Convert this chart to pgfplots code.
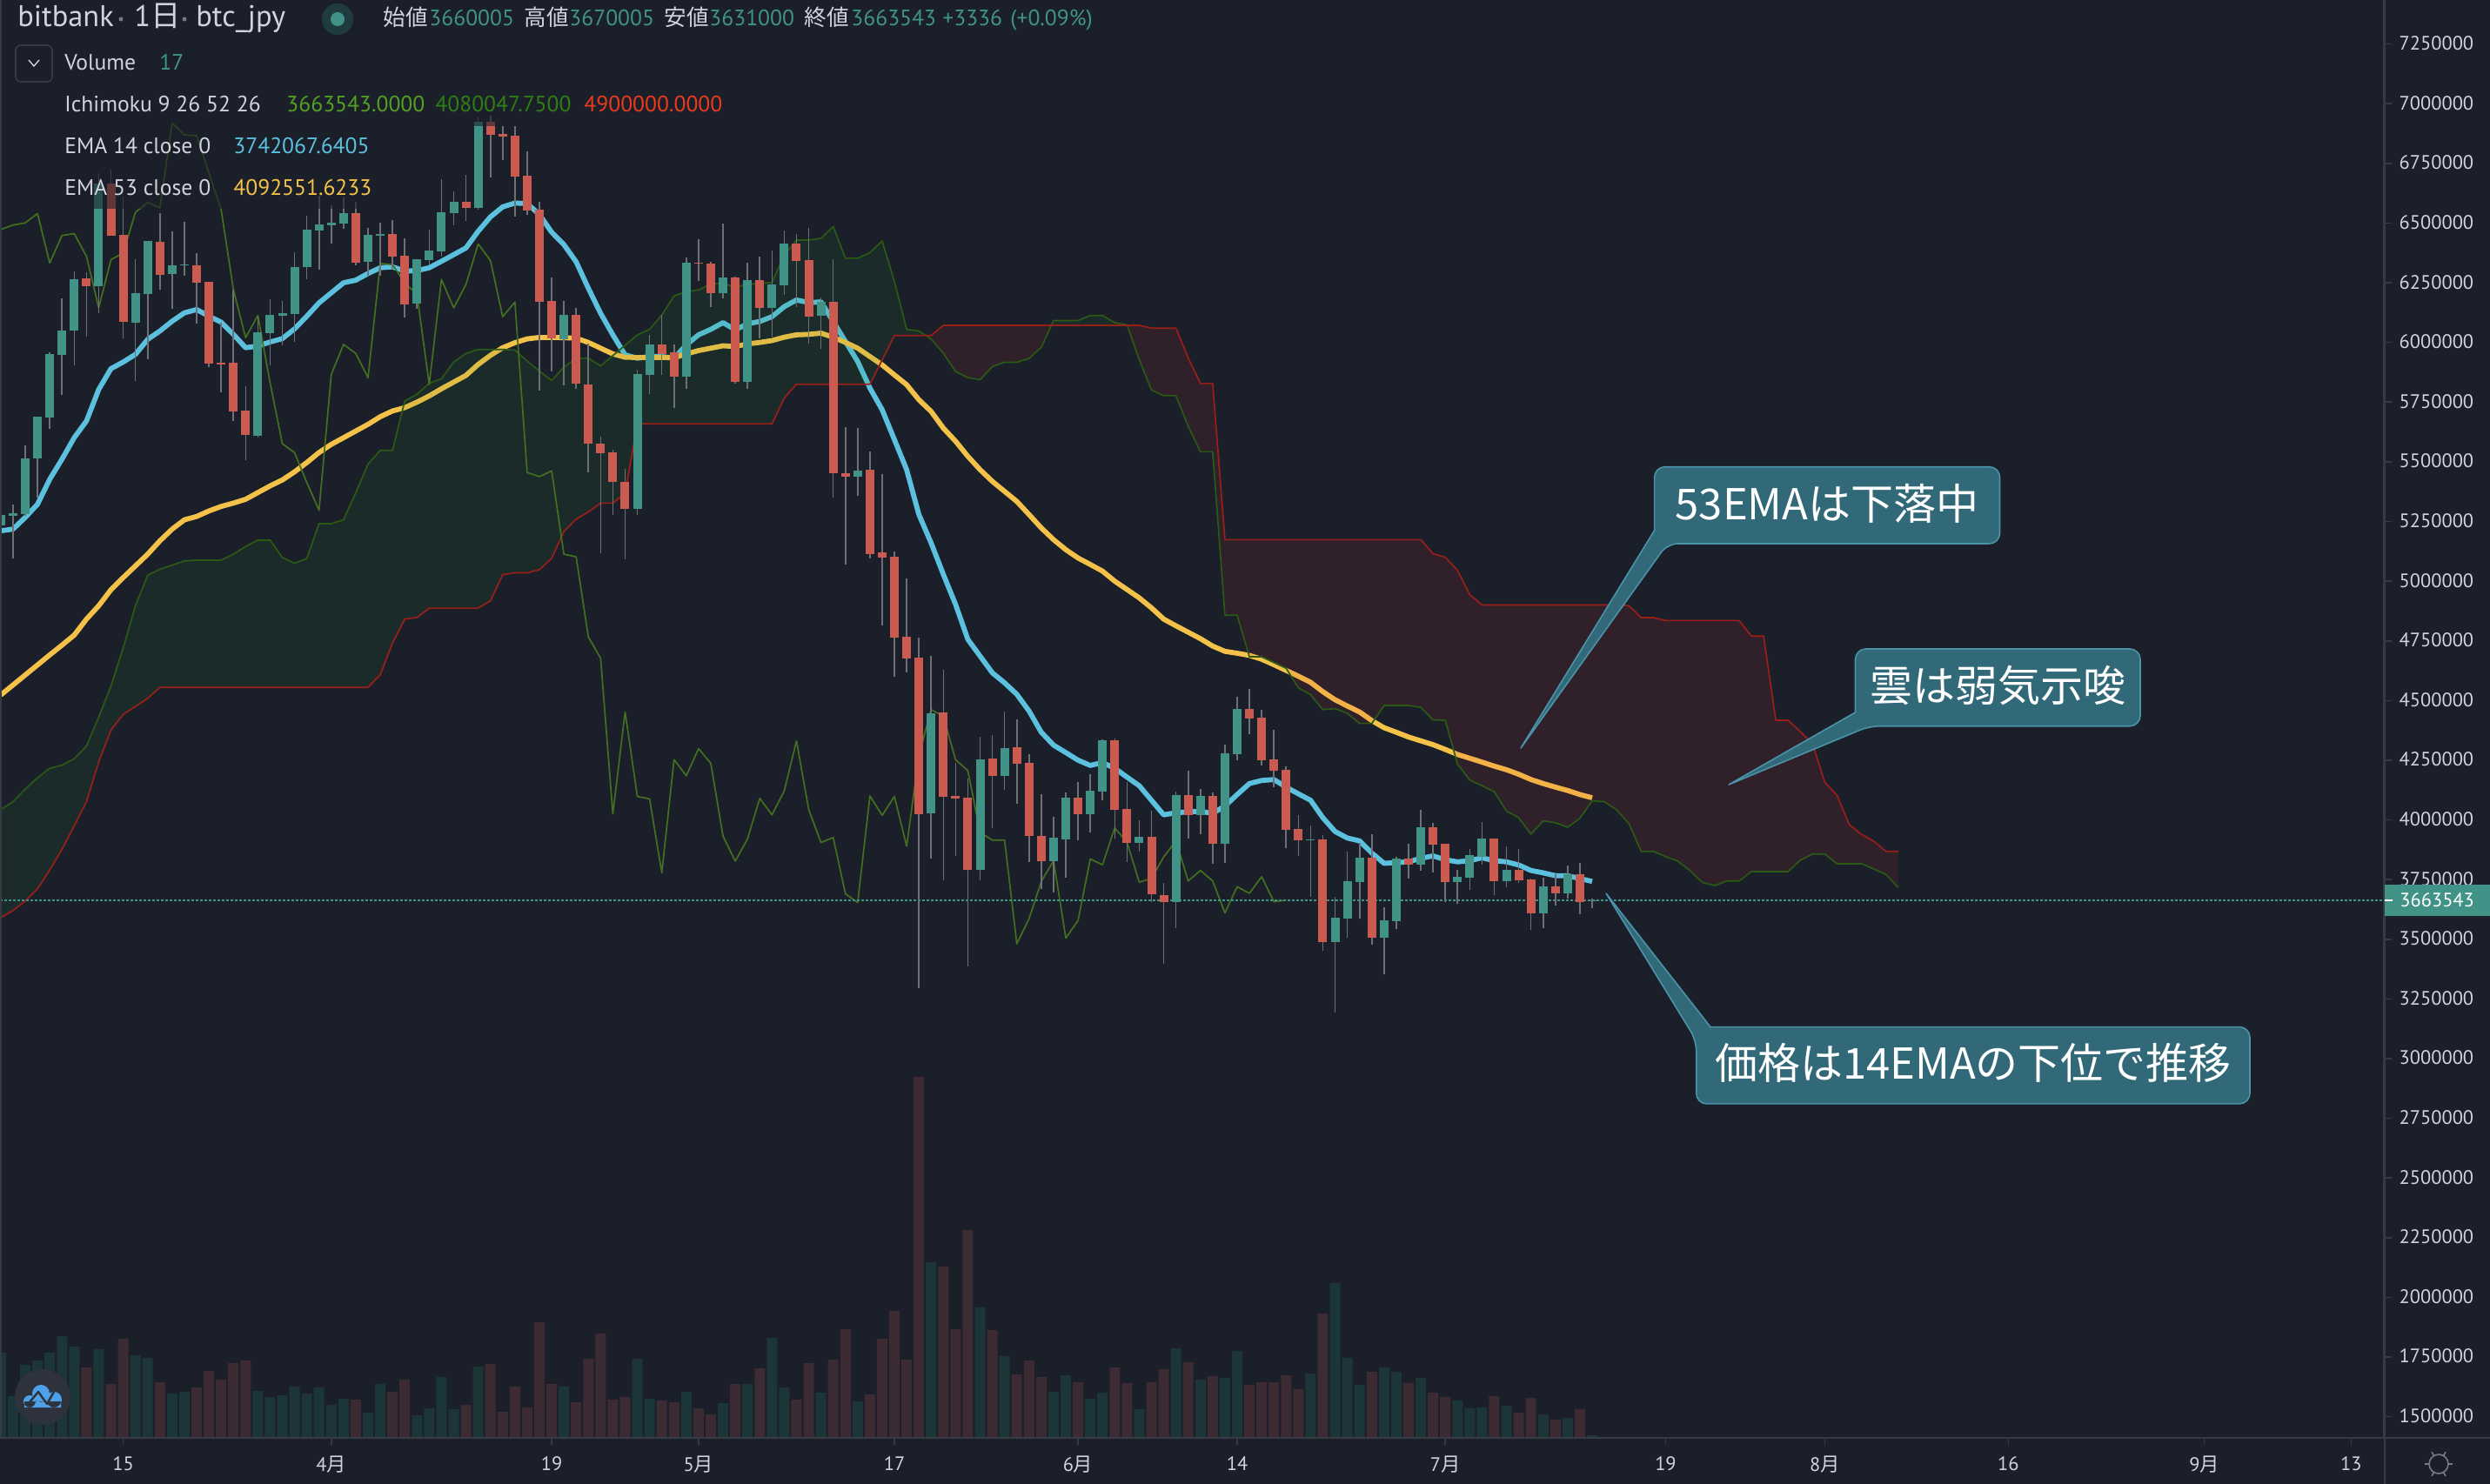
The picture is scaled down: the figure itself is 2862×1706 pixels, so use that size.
\documentclass[border=0pt]{standalone}
\usepackage{fontspec}
\usepackage{pgfplots}
\usepackage{pgfplotstable}
\pgfplotsset{compat=1.18}
\setmainfont{PT Sans}
\newfontfamily\cjk{Noto Sans CJK JP}
\definecolor{bg}{HTML}{1B1F2A}
\definecolor{cg}{HTML}{419387}
\definecolor{cr}{HTML}{CB5B50}
\definecolor{wick}{HTML}{6E7076}
\definecolor{vg}{HTML}{1C3539}
\definecolor{vr}{HTML}{3C2B32}
\definecolor{ema1}{HTML}{5CC1DE}
\definecolor{ema2}{HTML}{F4C149}
\definecolor{lag}{HTML}{43701F}
\definecolor{spa}{HTML}{2A5A14}
\definecolor{spb}{HTML}{9A1F19}
\definecolor{axl}{HTML}{363A45}
\definecolor{txt}{HTML}{D1D4DC}
\definecolor{tagf}{HTML}{33707F}
\definecolor{tagb}{HTML}{4A93A8}
\definecolor{cloudg}{RGB}{30,150,50}
\definecolor{cloudr}{RGB}{230,50,50}
\definecolor{darkc}{RGB}{31,59,62}
\definecolor{ichi1}{RGB}{84,160,34}
\definecolor{ichi2}{RGB}{47,126,20}
\definecolor{ichi3}{RGB}{235,58,30}
\definecolor{logob}{RGB}{46,50,61}
\definecolor{logoc}{RGB}{78,161,232}
\definecolor{sunc}{RGB}{120,123,134}
% candles: day, high, body high, body low, low
\pgfplotstableread{
d h bh bl l
5 5343000 5278000 5232000 5009000
6 5322000 5283000 5275000 5096000
7 5569000 5515000 5281000 5275000
8 5689000 5689000 5515000 5350000
9 5957000 5951000 5685000 5639000
10 6184000 6050000 5947000 5780000
11 6297000 6265000 6050000 5905000
13 6709000 6665000 6236000 6124000
16 6347000 6207000 6082000 5838000
17 6425000 6425000 6202000 5929000
19 6466000 6324000 6287000 6141000
20 6505000 6326000 6322000 6278000
26 6110000 6042000 5608000 5601000
27 6180000 6116000 6039000 5905000
28 6173000 6123000 6112000 5989000
29 6378000 6315000 6119000 6003000
30 6531000 6473000 6315000 6266000
31 6615000 6494000 6469000 6306000
32 6573000 6502000 6492000 6414000
33 6608000 6541000 6498000 6476000
35 6480000 6451000 6338000 6278000
36 6502000 6456000 6448000 6278000
39 6347000 6347000 6163000 6141000
40 6473000 6385000 6345000 6326000
41 6683000 6545000 6381000 6361000
42 6633000 6589000 6541000 6491000
44 6947000 6925000 6562000 6557000
51 6173000 6116000 6015000 5822000
57 5885000 5867000 5304000 5279000
58 6032000 5991000 5865000 5785000
61 6357000 6334000 5857000 5806000
64 6498000 6272000 6206000 6185000
66 6334000 6262000 5835000 5806000
68 6385000 6244000 6145000 6025000
69 6470000 6414000 6240000 6199000
72 6188000 6170000 6111000 5972000
75 5641000 5463000 5438000 5358000
81 4687000 4446000 4027000 3839000
85 4348000 4253000 3790000 3747000
87 4454000 4301000 4184000 4126000
91 4013000 3925000 3827000 3696000
92 4115000 4093000 3918000 3758000
94 4191000 4122000 4024000 3947000
95 4337000 4333000 4118000 4082000
98 3998000 3929000 3903000 3867000
101 4118000 4104000 3655000 3546000
103 4129000 4100000 4020000 3940000
105 4315000 4279000 3900000 3820000
106 4516000 4465000 4275000 4250000
112 3976000 3918000 3914000 3677000
114 3677000 3590000 3488000 3193000
115 3867000 3743000 3586000 3506000
116 3903000 3841000 3739000 3586000
118 3634000 3579000 3506000 3353000
119 3845000 3838000 3575000 3542000
121 4042000 3969000 3812000 3787000
124 3790000 3761000 3739000 3648000
125 3878000 3852000 3757000 3707000
126 3991000 3921000 3845000 3812000
128 3889000 3790000 3743000 3718000
131 3757000 3721000 3608000 3546000
133 3809000 3772000 3692000 3670000
135 3670005 3663543 3660005 3631000
}\greenC
\pgfplotstableread{
d h bh bl l
12 6294000 6268000 6236000 6024000
14 6724000 6665000 6448000 6448000
15 6612000 6451000 6087000 6017000
18 6541000 6421000 6283000 6220000
21 6374000 6324000 6250000 6080000
22 6254000 6254000 5911000 5898000
23 6082000 5915000 5909000 5792000
24 6222000 5915000 5711000 5671000
25 5815000 5714000 5612000 5508000
34 6591000 6541000 6335000 6324000
37 6512000 6456000 6360000 6308000
38 6438000 6363000 6159000 6105000
43 6702000 6589000 6564000 6509000
45 6950000 6925000 6870000 6693000
46 6908000 6873000 6863000 6766000
47 6905000 6866000 6696000 6529000
48 6801000 6699000 6552000 6536000
49 6591000 6557000 6172000 5799000
50 6271000 6173000 6018000 5880000
52 6143000 6116000 5826000 5806000
53 5994000 5824000 5575000 5457000
54 5604000 5575000 5537000 5118000
55 5551000 5540000 5414000 5279000
56 5470000 5414000 5304000 5093000
59 6116000 5991000 5951000 5865000
60 5991000 5959000 5856000 5725000
62 6432000 6334000 6329000 6259000
63 6337000 6330000 6206000 6150000
65 6276000 6272000 5835000 5828000
67 6360000 6262000 6146000 6018000
70 6454000 6414000 6341000 6150000
71 6480000 6345000 6109000 5997000
73 6348000 6170000 5452000 5351000
74 5644000 5452000 5438000 5070000
76 5544000 5467000 5113000 5096000
77 5449000 5121000 5099000 4816000
78 5124000 5103000 4763000 4601000
79 5011000 4767000 4676000 4619000
80 4763000 4680000 4025000 3296000
82 4629000 4450000 4097000 3747000
83 4239000 4100000 4089000 3849000
84 4173000 4093000 3790000 3387000
86 4355000 4257000 4184000 3965000
88 4421000 4304000 4235000 4067000
89 4275000 4239000 3932000 3823000
90 4107000 3932000 3827000 3710000
93 4158000 4093000 4024000 3914000
96 4341000 4333000 4042000 3921000
97 4158000 4045000 3903000 3823000
99 4038000 3929000 3688000 3655000
100 3736000 3685000 3655000 3397000
102 4206000 4104000 4020000 3921000
104 4115000 4100000 3900000 3816000
107 4548000 4465000 4425000 4359000
108 4461000 4428000 4250000 4228000
109 4377000 4253000 4206000 4137000
110 4224000 4210000 3958000 3881000
111 4020000 3962000 3914000 3849000
113 3936000 3918000 3488000 3451000
117 3940000 3841000 3506000 3477000
120 3900000 3838000 3812000 3754000
122 3987000 3969000 3896000 3780000
123 3900000 3900000 3739000 3655000
127 3921000 3921000 3743000 3685000
129 3878000 3790000 3747000 3736000
130 3754000 3750000 3608000 3539000
132 3772000 3721000 3692000 3641000
134 3820000 3772000 3655000 3605000
}\redC
% moving averages
\pgfplotstableread{
d e14 e53
5 5211000 4523000
6 5218000 4565000
7 5267000 4607000
8 5322000 4649000
9 5427000 4691000
10 5511000 4732000
11 5601000 4774000
12 5671000 4841000
13 5803000 4897000
14 5890000 4964000
15 5918000 5015000
16 5950000 5064000
17 6013000 5113000
18 6048000 5169000
19 6089000 5218000
20 6124000 5257000
21 6138000 5271000
22 6110000 5294000
23 6085000 5313000
24 6034000 5327000
25 5978000 5343000
26 5985000 5371000
27 6002000 5399000
28 6016000 5424000
29 6057000 5458000
30 6110000 5497000
31 6166000 5539000
32 6208000 5573000
33 6250000 5601000
34 6261000 5629000
35 6289000 5657000
36 6313000 5689000
37 6317000 5713000
38 6299000 5727000
39 6301000 5750000
40 6313000 5776000
41 6340000 5806000
42 6368000 5834000
43 6396000 5862000
44 6466000 5908000
45 6526000 5946000
46 6568000 5978000
47 6584000 5999000
48 6582000 6015000
49 6536000 6021000
50 6462000 6021000
51 6410000 6020000
52 6338000 6018000
53 6227000 6000000
54 6122000 5976000
55 6032000 5952000
56 5948000 5938000
57 5934000 5937000
58 5941000 5937000
59 5941000 5937000
60 5934000 5936000
61 5990000 5952000
62 6032000 5966000
63 6055000 5976000
64 6083000 5986000
65 6053000 5983000
66 6078000 5994000
67 6088000 6000000
68 6108000 6008000
69 6150000 6022000
70 6178000 6032000
71 6167000 6034000
72 6170000 6039000
73 6088000 6022000
74 6004000 6000000
75 5920000 5976000
76 5809000 5941000
77 5718000 5906000
78 5593000 5864000
79 5467000 5823000
80 5279000 5760000
81 5160000 5711000
82 5028000 5641000
83 4902000 5586000
84 4756000 5523000
85 4686000 5467000
86 4616000 5418000
87 4574000 5376000
88 4526000 5334000
89 4456000 5279000
90 4367000 5223000
91 4313000 5174000
92 4282000 5132000
93 4250000 5097000
94 4228000 5070000
95 4240000 5042000
96 4216000 5000000
97 4179000 4965000
98 4143000 4930000
99 4082000 4888000
100 4021000 4841000
101 4030000 4813000
102 4033000 4786000
103 4036000 4759000
104 4027000 4728000
105 4058000 4706000
106 4106000 4698000
107 4152000 4689000
108 4165000 4673000
109 4169000 4650000
110 4137000 4626000
111 4109000 4602000
112 4082000 4576000
113 4009000 4537000
114 3951000 4503000
115 3924000 4477000
116 3912000 4452000
117 3861000 4416000
118 3818000 4386000
119 3821000 4367000
120 3824000 4347000
121 3839000 4331000
122 3849000 4315000
123 3833000 4295000
124 3824000 4274000
125 3829000 4258000
126 3841000 4242000
127 3829000 4225000
128 3824000 4210000
129 3811000 4191000
130 3788000 4169000
131 3778000 4152000
132 3766000 4137000
133 3766000 4123000
134 3754000 4106000
135 3742068 4092552
}\ema
% lagging line
\pgfplotstableread{
d v
5 6473000
6 6492000
7 6501000
8 6540000
9 6333000
10 6448000
11 6456000
12 6361000
13 6145000
14 6347000
15 6375000
16 6545000
17 6587000
18 6564000
19 6919000
20 6870000
21 6866000
22 6710000
23 6557000
24 6222000
25 6020000
26 6113000
27 5831000
28 5576000
29 5538000
30 5413000
31 5297000
32 5866000
33 5992000
34 5954000
35 5852000
36 6331000
37 6326000
38 6250000
39 6201000
40 5824000
41 6264000
42 6145000
43 6243000
44 6413000
45 6343000
46 6108000
47 6169000
48 5455000
49 5438000
50 5462000
51 5113000
52 5102000
53 4766000
54 4677000
55 4025000
56 4452000
57 4098000
58 4088000
59 3778000
60 4252000
61 4185000
62 4298000
63 4237000
64 3932000
65 3827000
66 3920000
67 4090000
68 4021000
69 4121000
70 4331000
71 4043000
72 3905000
73 3926000
74 3690000
75 3654000
76 4100000
77 4019000
78 4098000
79 3890000
80 4269000
81 4462000
82 4434000
83 4252000
84 4206000
85 3948000
86 3915000
87 3915000
88 3481000
89 3586000
90 3742000
91 3829000
92 3505000
93 3578000
94 3836000
95 3812000
96 3966000
97 3906000
98 3739000
99 3754000
100 3845000
101 3912000
102 3744000
103 3788000
104 3744000
105 3610000
106 3720000
107 3692000
108 3762000
109 3657000
110 3663543
}\lagline
% cloud spans
\pgfplotstableread{
d a b
5 4043000 3591000
6 4076000 3620000
7 4129000 3660000
8 4176000 3711000
9 4216000 3790000
10 4229000 3877000
11 4256000 3975000
12 4309000 4076000
13 4430000 4243000
14 4560000 4376000
15 4720000 4442000
16 4897000 4475000
17 5025000 4509000
18 5050000 4555000
19 5067000 4555000
20 5085000 4555000
21 5088000 4555000
22 5088000 4555000
23 5088000 4555000
24 5113000 4555000
25 5145000 4555000
26 5172000 4555000
27 5172000 4555000
28 5099000 4555000
29 5075000 4555000
30 5095000 4555000
31 5241000 4555000
32 5241000 4555000
33 5257000 4555000
34 5371000 4555000
35 5490000 4555000
36 5548000 4608000
37 5548000 4741000
38 5755000 4841000
39 5783000 4848000
40 5829000 4887000
41 5848000 4887000
42 5918000 4887000
43 5954000 4887000
44 5971000 4887000
45 5971000 4918000
46 5971000 5027000
47 5968000 5035000
48 5922000 5035000
49 5880000 5048000
50 5841000 5096000
51 5897000 5208000
52 5934000 5260000
53 5934000 5290000
54 5902000 5327000
55 5945000 5327000
56 5988000 5369000
57 6032000 5659000
58 6055000 5659000
59 6115000 5659000
60 6195000 5659000
61 6213000 5659000
62 6220000 5659000
63 6244000 5659000
64 6248000 5659000
65 6231000 5659000
66 6244000 5659000
67 6248000 5659000
68 6251000 5659000
69 6366000 5767000
70 6429000 5825000
71 6429000 5825000
72 6436000 5825000
73 6485000 5825000
74 6353000 5825000
75 6353000 5825000
76 6376000 5825000
77 6425000 5927000
78 6255000 6029000
79 6055000 6029000
80 6048000 6029000
81 6014000 6029000
82 5955000 6072000
83 5878000 6072000
84 5853000 6072000
85 5844000 6072000
86 5899000 6072000
87 5917000 6072000
88 5917000 6072000
89 5933000 6072000
90 5980000 6072000
91 6092000 6072000
92 6092000 6072000
93 6092000 6072000
94 6113000 6072000
95 6113000 6072000
96 6083000 6072000
97 6074000 6072000
98 5928000 6072000
99 5801000 6060000
100 5777000 6060000
101 5777000 6060000
102 5649000 5935000
103 5542000 5828000
104 5542000 5828000
105 4857000 5174000
106 4857000 5174000
107 4683000 5174000
108 4683000 5174000
109 4659000 5174000
110 4635000 5174000
111 4553000 5174000
112 4524000 5174000
113 4462000 5174000
114 4466000 5174000
115 4446000 5174000
116 4404000 5174000
117 4404000 5174000
118 4479000 5174000
119 4479000 5174000
120 4479000 5174000
121 4471000 5174000
122 4419000 5115000
123 4417000 5100000
124 4234000 5045000
125 4167000 4944000
126 4143000 4900000
127 4118000 4900000
128 4037000 4900000
129 4009000 4900000
130 3940000 4900000
131 3996000 4900000
132 3988000 4900000
133 3969000 4900000
134 4007000 4900000
135 4080048 4900000
136 4076000 4900000
137 4042000 4900000
138 3985000 4897000
139 3868000 4847000
140 3868000 4847000
141 3846000 4835000
142 3827000 4835000
143 3787000 4835000
144 3738000 4835000
145 3725000 4835000
146 3744000 4835000
147 3744000 4835000
148 3783000 4770000
149 3783000 4770000
150 3783000 4417000
151 3783000 4417000
152 3831000 4370000
153 3857000 4320000
154 3857000 4157000
155 3816000 4103000
156 3816000 3980000
157 3816000 3939000
158 3794000 3911000
159 3772000 3868000
160 3716000 3868000
}\cloud
% volume
\pgfplotstableread{
d v
5 824
6 399
7 705
8 748
9 824
10 986
11 884
13 858
16 799
17 773
19 425
20 442
26 450
27 391
28 408
29 493
30 425
31 484
32 314
33 374
35 238
36 518
39 212
40 280
41 586
42 272
44 688
51 493
57 765
58 374
61 442
64 331
66 518
68 969
69 484
72 433
75 348
81 1708
85 1266
87 790
91 442
92 603
94 374
95 433
98 272
101 867
103 561
105 578
106 841
112 620
114 1504
115 773
116 510
118 680
119 637
121 578
124 357
125 280
126 289
128 306
131 221
133 187
135 17
}\volg
\pgfplotstableread{
d v
12 680
14 518
15 960
18 535
21 484
22 646
23 561
24 722
25 748
34 365
37 442
38 561
43 314
45 714
46 246
47 493
48 289
49 1122
50 518
52 340
53 765
54 1011
55 365
56 391
59 357
60 340
62 280
63 221
65 518
67 671
70 365
71 722
73 756
74 1054
76 416
77 960
78 1232
79 756
80 3519
82 1666
83 1054
84 2023
86 1045
88 612
89 748
90 586
93 535
96 680
97 527
99 535
100 663
102 731
104 595
107 510
108 535
109 535
110 603
111 467
113 1207
117 637
120 527
122 433
123 391
127 399
129 238
130 382
132 170
134 272
}\volr
\pgfplotsset{common/.style={
  scale only axis, width=1370.35pt, height=826.5pt,
  at={(0,0)}, anchor=north west,
  xmin=4.936, xmax=199.72, clip=true}}
\begin{document}
\begin{tikzpicture}[x=0.5pt,y=-0.5pt]
\path[fill=bg,use as bounding box] (0,0) rectangle (2862,1706);
% volume
\begin{axis}[common, hide axis, ymin=-8.5, ymax=14042, ybar, bar width=6pt]
\addplot[fill=vg,draw=none,bar shift=0pt] table[x=d,y=v]{\volg};
\addplot[fill=vr,draw=none,bar shift=0pt] table[x=d,y=v]{\volr};
\end{axis}
% price
\begin{axis}[common,
  ymin=1410700, ymax=7434767,
  axis x line*=bottom, axis y line*=right,
  axis line style={axl,line width=1.2pt,-},
  x axis line style={-}, y axis line style={-},
  xtick={15,32,50,62,78,93,106,123,141,154,169,185,197},
  xticklabels={15,4{\cjk 月},19,5{\cjk 月},17,6{\cjk 月},14,7{\cjk 月},19,8{\cjk 月},16,9{\cjk 月},13},
  ytick distance=250000, scaled y ticks=false,
  tick align=outside, major tick length=4pt,
  tick style={axl,line width=0.8pt},
  tick label style={font=\fontsize{11.2}{13}\selectfont,text=txt},
  xticklabel style={yshift=-3pt},
  yticklabel style={/pgf/number format/fixed,/pgf/number format/1000 sep={},/pgf/number format/precision=0,/pgf/number format/assume math mode=true,xshift=1pt,yshift=0.4pt},
  no markers]
\addplot[ema1,line width=2.9pt,line join=round] table[x=d,y=e14]{\ema};
\addplot[ema2,line width=2.9pt,line join=round] table[x=d,y=e53]{\ema};
% cloud polygons: span A forward, span B back
\addplot[draw=none,fill=cloudg,fill opacity=0.1] coordinates {
(5,4043000)(6,4076000)(7,4129000)(8,4176000)(9,4216000)(10,4229000)(11,4256000)(12,4309000)(13,4430000)(14,4560000)(15,4720000)(16,4897000)(17,5025000)(18,5050000)(19,5067000)(20,5085000)(21,5088000)(23,5088000)(24,5113000)(25,5145000)(26,5172000)(27,5172000)(28,5099000)(29,5075000)(30,5095000)(31,5241000)(32,5241000)(33,5257000)(34,5371000)(35,5490000)(36,5548000)(37,5548000)(38,5755000)(39,5783000)(40,5829000)(41,5848000)(42,5918000)(43,5954000)(44,5971000)(46,5971000)(47,5968000)(48,5922000)(49,5880000)(50,5841000)(51,5897000)(52,5934000)(53,5934000)(54,5902000)(55,5945000)(56,5988000)(57,6032000)(58,6055000)(59,6115000)(60,6195000)(61,6213000)(62,6220000)(63,6244000)(64,6248000)(65,6231000)(66,6244000)(67,6248000)(68,6251000)(69,6366000)(70,6429000)(71,6429000)(72,6436000)(73,6485000)(74,6353000)(75,6353000)(76,6376000)(77,6425000)(78,6255000)(79,6055000)(80,6048000)(80.56,6029000)
(78,6029000)(77,5927000)(76,5825000)(70,5825000)(69,5767000)(68,5659000)(57,5659000)(56,5369000)(55,5327000)(54,5327000)(53,5290000)(52,5260000)(51,5208000)(50,5096000)(49,5048000)(48,5035000)(47,5035000)(46,5027000)(45,4918000)(44,4887000)(40,4887000)(39,4848000)(38,4841000)(37,4741000)(36,4608000)(35,4555000)(18,4555000)(17,4509000)(16,4475000)(15,4442000)(14,4376000)(13,4243000)(12,4076000)(11,3975000)(10,3877000)(9,3790000)(8,3711000)(7,3660000)(6,3620000)(5,3591000)};
\addplot[draw=none,fill=cloudr,fill opacity=0.1] coordinates {
(80.56,6029000)(81,6014000)(82,5955000)(83,5878000)(84,5853000)(85,5844000)(86,5899000)(87,5917000)(88,5917000)(89,5933000)(90,5980000)(90.82,6072000)(82,6072000)(81,6029000)};
\addplot[draw=none,fill=cloudg,fill opacity=0.1] coordinates {
(90.82,6072000)(91,6092000)(93,6092000)(94,6113000)(95,6113000)(96,6083000)(97,6074000)(97.01,6072000)};
\addplot[draw=none,fill=cloudr,fill opacity=0.1] coordinates {
(97.01,6072000)(98,5928000)(99,5801000)(100,5777000)(101,5777000)(102,5649000)(103,5542000)(104,5542000)(105,4857000)(106,4857000)(107,4683000)(108,4683000)(109,4659000)(110,4635000)(111,4553000)(112,4524000)(113,4462000)(114,4466000)(115,4446000)(116,4404000)(117,4404000)(118,4479000)(120,4479000)(121,4471000)(122,4419000)(123,4417000)(124,4234000)(125,4167000)(126,4143000)(127,4118000)(128,4037000)(129,4009000)(130,3940000)(131,3996000)(132,3988000)(133,3969000)(134,4007000)(135,4080048)(136,4076000)(137,4042000)(138,3985000)(139,3868000)(140,3868000)(141,3846000)(142,3827000)(143,3787000)(144,3738000)(145,3725000)(146,3744000)(147,3744000)(148,3783000)(151,3783000)(152,3831000)(153,3857000)(154,3857000)(155,3816000)(157,3816000)(158,3794000)(159,3772000)(160,3716000)
(160,3868000)(159,3868000)(158,3911000)(157,3939000)(156,3980000)(155,4103000)(154,4157000)(153,4320000)(152,4370000)(151,4417000)(150,4417000)(149,4770000)(148,4770000)(147,4835000)(141,4835000)(140,4847000)(139,4847000)(138,4897000)(137,4900000)(126,4900000)(125,4944000)(124,5045000)(123,5100000)(122,5115000)(121,5174000)(105,5174000)(104,5828000)(103,5828000)(102,5935000)(101,6060000)(99,6060000)(98,6072000)};
\addplot[spa,line width=0.85pt,line join=round] table[x=d,y=a]{\cloud};
\addplot[spb,line width=0.85pt,line join=round] table[x=d,y=b]{\cloud};
\addplot[lag,line width=0.85pt,line join=round] table[x=d,y=v]{\lagline};
\addplot[cg,line width=0.7pt,dash pattern=on 1.5pt off 1pt] coordinates {(4.936,3663543)(199.72,3663543)};
% wicks
\addplot[draw=none,mark=none,error bars/.cd,y dir=plus,y explicit,error mark=none,error bar style={draw=wick,line width=0.8pt}]
  table[x=d,y=l,y error plus expr=\thisrow{h}-\thisrow{l}]{\greenC};
\addplot[draw=none,mark=none,error bars/.cd,y dir=plus,y explicit,error mark=none,error bar style={draw=wick,line width=0.8pt}]
  table[x=d,y=l,y error plus expr=\thisrow{h}-\thisrow{l}]{\redC};
% bodies
\addplot[draw=none,mark=none,error bars/.cd,y dir=plus,y explicit,error mark=none,error bar style={draw=cg,line width=5pt}]
  table[x=d,y=bl,y error plus expr=\thisrow{bh}-\thisrow{bl}]{\greenC};
\addplot[draw=none,mark=none,error bars/.cd,y dir=plus,y explicit,error mark=none,error bar style={draw=cr,line width=5pt}]
  table[x=d,y=bl,y error plus expr=\thisrow{bh}-\thisrow{bl}]{\redC};
\end{axis}
% frame continuation
\draw[axl,line width=1.2pt] (2741,1653) -- (2862,1653);
\draw[axl,line width=1.2pt] (2741,1653) -- (2741,1706);
\draw[axl,line width=1pt] (1,0) -- (1,1653);
% price tag
\fill[cg] (2741,1017) rectangle (2862,1053);
\draw[white,line width=0.8pt] (2741,1035) -- (2750,1035);
\node[anchor=west,inner sep=0pt,white,font=\fontsize{11.2}{13}\selectfont] at (2758,1035) {3663543};
% header rows background
\fill[bg,opacity=0.6] (60,97) rectangle (840,145);
\fill[bg,opacity=0.6] (60,145) rectangle (435,193);
\fill[bg,opacity=0.6] (60,193) rectangle (435,240);
% header
\tikzset{hd/.style={anchor=base west,inner sep=0pt,text=txt},big/.style={font=\fontsize{17.2}{20}\selectfont},small/.style={font=\fontsize{12.8}{15}\selectfont}}
\node[hd,big] at (20,31) {bitbank};
\fill[txt!50!bg] (139,22) circle (2.5);
\node[hd,big] at (154,31) {1{\cjk 日}};
\fill[txt!50!bg] (212,22) circle (2.5);
\node[hd,big] at (225,31) {btc\_jpy};
\fill[darkc] (388,22) circle (18);
\fill[cg] (388,22) circle (8);
\node[hd,small] at (440,30) {\cjk 始値};
\node[hd,small,text=cg] at (493,30) {3660005};
\node[hd,small] at (602,30) {\cjk 高値};
\node[hd,small,text=cg] at (654,30) {3670005};
\node[hd,small] at (763,30) {\cjk 安値};
\node[hd,small,text=cg] at (815,30) {3631000};
\node[hd,small] at (924,30) {\cjk 終値};
\node[hd,small,text=cg] at (978,30) {3663543};
\node[hd,small,text=cg] at (1083,30) {+3336};
\node[hd,small,text=cg] at (1161,30) {(+0.09\%)};
\draw[axl,line width=0.8pt,rounded corners=3pt] (18,52) rectangle (60,94);
\draw[txt,line width=0.7pt] (33,69) -- (39,76) -- (45,69);
\node[hd,small] at (74,81) {Volume};
\node[hd,small,text=cg] at (183,81) {17};
\node[hd,small] at (74,129) {Ichimoku 9 26 52 26};
\node[hd,small,text=ichi1] at (329,129) {3663543.0000};
\node[hd,small,text=ichi2] at (500,129) {4080047.7500};
\node[hd,small,text=ichi3] at (671,129) {4900000.0000};
\node[hd,small] at (74,177) {EMA 14 close 0};
\node[hd,small,text=ema1] at (268,177) {3742067.6405};
\node[hd,small] at (74,225) {EMA 53 close 0};
\node[hd,small,text=ema2] at (268,225) {4092551.6233};
% callouts
\tikzset{co/.style={fill=tagf,fill opacity=0.92,draw=tagb,line width=0.8pt,line join=round}}
\path[co] (1748,860) -- (1901.6,609.7) [rounded corners=6pt] -- (1901.6,536.7) -- (2298.5,536.7) -- (2298.5,625) -- (1916.5,625) [sharp corners] -- cycle;
\node[white,font=\cjk\fontsize{24.5}{28}\selectfont,inner sep=0pt] at (2100,579) {53EMAは下落中};
\path[co] (1987,902) -- (2132.5,819) [rounded corners=6pt] -- (2132.5,746) -- (2460,746) -- (2460,834.7) -- (2148.8,834.7) [sharp corners] -- cycle;
\node[white,font=\cjk\fontsize{24.5}{28}\selectfont,inner sep=0pt] at (2296,788) {雲は弱気示唆};
\path[co] (1846,1027) -- (1966,1180.6) [rounded corners=6pt] -- (2586,1180.6) -- (2586,1268.9) -- (1949.7,1268.9) -- (1949.7,1196) [sharp corners] -- cycle;
\node[white,font=\cjk\fontsize{24.5}{28}\selectfont,inner sep=0pt] at (2268,1222) {価格は14EMAの下位で推移};
% logo
\fill[logob] (49,1606) circle (32);
\fill[logoc] (34,1611) circle (7) (47,1602) circle (10) (62,1609) circle (9) (28,1611) rectangle (70,1618);
\draw[logob,line width=1.2pt,line join=round] (34,1612) -- (44,1600) -- (54,1614) -- (62,1600);
% sun icon
\draw[sunc,line width=0.8pt] (2803,1683) circle (11);
\foreach \a in {0,60,...,300}{\draw[sunc,line width=0.8pt] (2803,1683)++(\a:11) -- ++(\a:5);}
\end{tikzpicture}
\end{document}
